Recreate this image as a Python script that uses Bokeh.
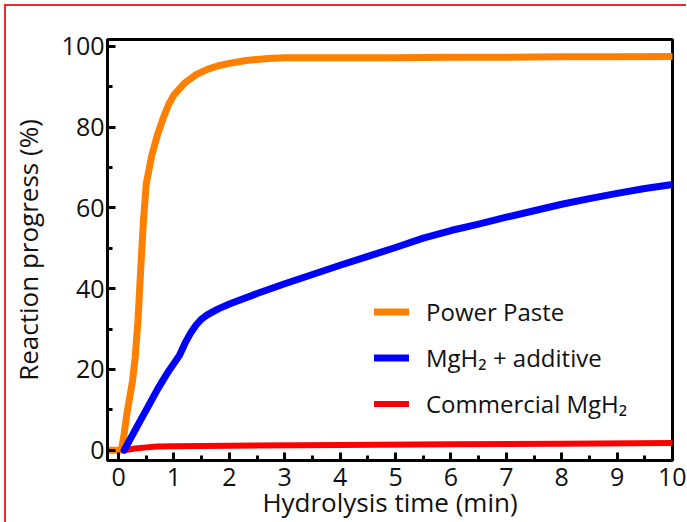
from bokeh.plotting import figure
from bokeh.models import SingleIntervalTicker, Legend, LegendItem, Range1d, Div
from bokeh.layouts import column, row
from bokeh.embed import file_html
from bokeh.resources import INLINE

# ---- data ----
pp_x = [-0.2, 0.05, 0.1, 0.15, 0.2, 0.25, 0.3, 0.35, 0.4, 0.45, 0.5, 0.6, 0.7, 0.8, 0.9, 1.0,
        1.2, 1.4, 1.6, 1.8, 2.0, 2.3, 2.7, 3.0, 4.0, 5.0, 6.0, 7.0, 8.0, 9.0, 10.0]
pp_y = [0, 0, 4, 9, 13, 17, 23, 32, 45, 57, 66, 73, 78, 82, 85.5, 88,
        91, 93, 94.3, 95.2, 95.8, 96.5, 97.0, 97.2, 97.2, 97.2, 97.3, 97.3, 97.4, 97.4, 97.5]

add_x = [0.1, 0.2, 0.3, 0.4, 0.5, 0.6, 0.7, 0.8, 0.9, 1.0, 1.1, 1.2, 1.3, 1.4, 1.5, 1.6, 1.8,
         2.0, 2.5, 3.0, 3.5, 4.0, 4.5, 5.0, 5.5, 6.0, 6.5, 7.0, 7.5, 8.0, 8.5, 9.0, 9.5, 10.0]
add_y = [0, 2.5, 5, 7.5, 10, 12.5, 15, 17.3, 19.5, 21.5, 23.5, 26.5, 29, 31, 32.5, 33.5, 35,
         36.2, 38.8, 41.2, 43.5, 45.8, 48, 50.2, 52.5, 54.4, 56, 57.7, 59.3, 60.9, 62.3, 63.6, 64.8, 65.8]

com_x = [0.1, 0.3, 0.5, 0.7, 1.0, 2.0, 4.0, 6.0, 8.0, 10.0]
com_y = [0, 0.4, 0.7, 0.9, 1.0, 1.1, 1.3, 1.5, 1.6, 1.8]

series_names = ["Power Paste", "MgH\u2082 + additive", "Commercial MgH\u2082"]
x_label = "Hydrolysis time (min)"
y_label = "Reaction progress (%)"

FONT = "Open Sans"
ORANGE = "#ff8000"
BLUE = "#0000ff"
RED = "#ff0000"
FRAME_RED = "#ee2a2f"
TEXT = "#111111"

p = figure(width=680, height=516, output_backend="svg", toolbar_location=None,
           x_range=Range1d(-0.2, 10.0), y_range=Range1d(-2.55, 101.7),
           min_border_left=95, min_border_right=14, min_border_top=33, min_border_bottom=61)

p.grid.visible = False
p.background_fill_color = "white"
p.border_fill_color = "white"
p.outline_line_color = "black"
p.outline_line_width = 3
p.outline_line_alpha = 1

r_com = p.line(com_x, com_y, line_color=RED, line_width=6, line_cap="round", line_join="round")
r_pp = p.line(pp_x, pp_y, line_color=ORANGE, line_width=7, line_cap="round", line_join="round")
r_add = p.line(add_x, add_y, line_color=BLUE, line_width=7, line_cap="round", line_join="round")

p.xaxis.ticker = SingleIntervalTicker(interval=1, num_minor_ticks=2)
p.yaxis.ticker = SingleIntervalTicker(interval=20, num_minor_ticks=2)

for ax in (p.xaxis[0], p.yaxis[0]):
    ax.axis_line_width = 3
    ax.axis_line_color = "black"
    ax.major_tick_in = 8
    ax.major_tick_out = 0
    ax.minor_tick_in = 5
    ax.minor_tick_out = 0
    ax.major_tick_line_width = 3
    ax.minor_tick_line_width = 3
    ax.major_tick_line_color = "black"
    ax.minor_tick_line_color = "black"
    ax.major_label_text_font = FONT
    ax.major_label_text_font_size = "25px"
    ax.major_label_text_color = TEXT
    ax.axis_label_text_font = FONT
    ax.axis_label_text_font_size = "26px"
    ax.axis_label_text_font_style = "normal"
    ax.axis_label_text_color = TEXT
    ax.axis_label_text_line_height = 1.0

p.yaxis.axis_label = y_label
p.yaxis.major_label_standoff = 3
p.yaxis.axis_label_standoff = 13
p.xaxis.axis_label = x_label
p.xaxis.major_label_standoff = 7
p.xaxis.axis_label_standoff = -5

legend = Legend(items=[LegendItem(label=series_names[0], renderers=[r_pp]),
                       LegendItem(label=series_names[1], renderers=[r_add]),
                       LegendItem(label=series_names[2], renderers=[r_com])],
                location=(267, 40), orientation="vertical",
                background_fill_alpha=0, border_line_alpha=0,
                padding=0, margin=0, spacing=13,
                glyph_width=35, glyph_height=33, label_height=33, label_standoff=17,
                label_text_font=FONT, label_text_font_size="24px", label_text_color=TEXT)
p.add_layout(legend)

top_bar = Div(text="", width=682, height=2, margin=0, styles={"background-color": FRAME_RED})
left_bar = Div(text="", width=2, height=516, margin=0, styles={"background-color": FRAME_RED})
page = column(top_bar, row(left_bar, p, spacing=0, margin=0), spacing=0, margin=(4, 0, 0, 4))

open("out.html", "w").write(file_html(page, INLINE))
